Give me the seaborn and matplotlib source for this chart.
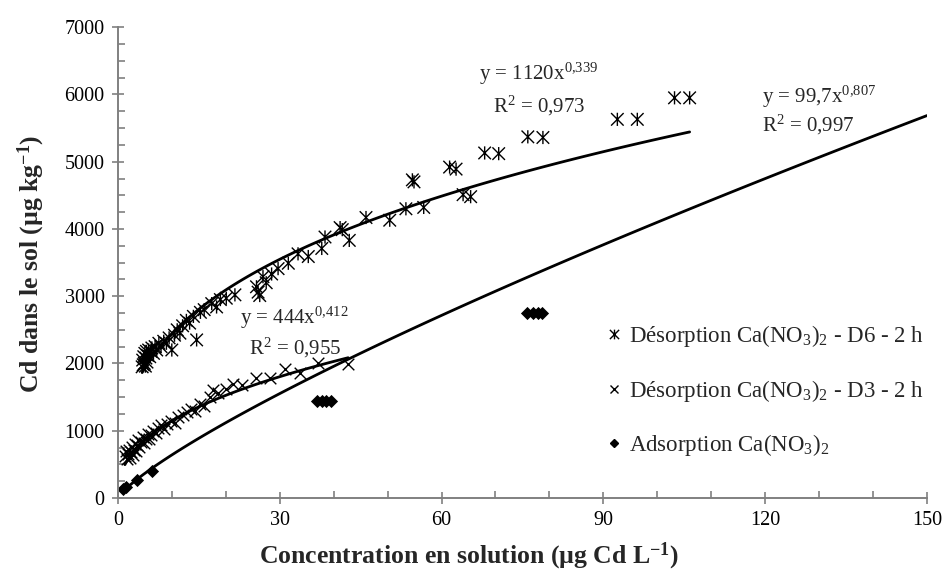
import numpy as np
import matplotlib
matplotlib.use("Agg")
import matplotlib.pyplot as plt
from matplotlib.lines import Line2D
from matplotlib.path import Path
from matplotlib.ticker import MultipleLocator
import seaborn as sns

# Désorption D6 - 2 h (asterisk markers)
d6_x = [4.5, 4.6, 4.7, 4.8, 4.9, 5.0, 5.1, 5.2, 5.3, 5.4, 5.5, 5.7, 5.9, 6.1, 6.3,
        6.6, 6.9, 7.2, 7.6, 8.0, 8.5, 9.0, 9.5, 10.0, 10.5, 11.0, 11.5, 12.0, 12.7,
        13.3, 14.0, 14.6, 15.3, 16.0, 17.4, 18.3, 19.0, 20.1, 21.7, 25.7, 26.0, 26.3,
        26.9, 27.5, 28.5, 29.7, 31.6, 33.4, 35.3, 37.8, 38.4, 41.2, 41.6, 42.9, 46.0,
        50.4, 53.4, 54.6, 54.9, 56.7, 61.5, 62.7, 64.0, 65.4, 68.0, 70.6, 76.0, 78.8,
        92.6, 96.3, 103.2, 106.0]
d6_y = [1950, 2050, 1980, 2100, 2000, 2150, 1960, 2080, 2180, 2020, 2120, 2200, 2100,
        2180, 2230, 2150, 2250, 2200, 2300, 2250, 2330, 2300, 2380, 2200, 2420, 2500,
        2450, 2560, 2640, 2600, 2700, 2350, 2760, 2800, 2890, 2840, 2950, 2970, 3020,
        3140, 3060, 3010, 3290, 3200, 3330, 3410, 3490, 3630, 3590, 3710, 3880, 4020,
        3990, 3830, 4170, 4130, 4300, 4730, 4700, 4320, 4920, 4890, 4510, 4480, 5130,
        5120, 5370, 5360, 5630, 5630, 5950, 5950]

# Désorption D3 - 2 h (x markers)
d3_x = [1.3, 1.5, 1.7, 1.9, 2.0, 2.2, 2.4, 2.6, 2.8, 3.0, 3.2, 3.4, 3.6, 3.8, 4.0,
        4.3, 4.6, 4.9, 5.2, 5.5, 5.8, 6.1, 6.5, 7.0, 7.5, 8.0, 8.6, 9.2, 9.8, 10.5,
        11.2, 12.0, 12.8, 13.5, 14.3, 15.2, 16.0, 17.1, 17.6, 18.5, 20.0, 21.4, 23.0,
        25.7, 28.2, 31.0, 33.7, 37.1, 42.7]
d3_y = [620, 700, 580, 650, 720, 600, 680, 760, 640, 720, 800, 700, 780, 860, 760,
        830, 900, 820, 880, 950, 870, 940, 1000, 960, 1040, 1080, 1020, 1100, 1150,
        1120, 1200, 1230, 1280, 1330, 1290, 1400, 1370, 1500, 1600, 1560, 1620, 1700,
        1680, 1780, 1780, 1910, 1860, 2010, 1990]

# Adsorption (diamonds)
ads_x = [0.9, 1.5, 3.5, 6.3, 37.0, 37.8, 38.6, 39.5, 75.9, 76.9, 77.8, 78.7]
ads_y = [130, 160, 260, 400, 1440, 1445, 1440, 1445, 2750, 2755, 2750, 2755]

# power trendlines y = a * x^b
fit_a = [1120, 444, 99.7]
fit_b = [0.339, 0.412, 0.807]
fit_xmin = [4.5, 1.3, 0.9]
fit_xmax = [106.0, 42.7, 150.0]
fit_eq = [r"y = 1120x$^{0{,}339}$", r"y = 444x$^{0{,}412}$", r"y = 99,7x$^{0{,}807}$"]
fit_r2 = [r"R$^2$ = 0,973", r"R$^2$ = 0,955", r"R$^2$ = 0,997"]

legend_labels = [r"Désorption Ca(NO$_3$)$_2$ - D6 - 2 h",
                 r"Désorption Ca(NO$_3$)$_2$ - D3 - 2 h",
                 r"Adsorption Ca(NO$_3$)$_2$"]

sns.set_theme(style="white")
plt.rcParams['font.family'] = ['Liberation Serif', 'DejaVu Serif']
plt.rcParams['mathtext.fontset'] = 'custom'
plt.rcParams['mathtext.rm'] = 'Liberation Serif'
plt.rcParams['mathtext.it'] = 'Liberation Serif:italic'
plt.rcParams['mathtext.bf'] = 'Liberation Serif:bold'

fig, ax = plt.subplots(figsize=(9.43, 5.79), dpi=100)
fig.subplots_adjust(left=0.125, right=0.983, bottom=0.140, top=0.953)

# asterisk marker like Excel's star: an x with a vertical bar
star = Path([(-1, -1), (1, 1), (-1, 1), (1, -1), (0, -1.05), (0, 1.05)],
            [Path.MOVETO, Path.LINETO, Path.MOVETO, Path.LINETO, Path.MOVETO, Path.LINETO])

sns.scatterplot(x=d6_x, y=d6_y, marker=star, s=90, facecolor='none',
                edgecolor='black', linewidth=1.0, ax=ax)
sns.scatterplot(x=d3_x, y=d3_y, marker='x', s=70, color='black', linewidth=1.0, ax=ax)
sns.scatterplot(x=ads_x, y=ads_y, marker='D', s=45, color='black', linewidth=0, ax=ax)

for a, b, x0, x1 in zip(fit_a, fit_b, fit_xmin, fit_xmax):
    xs = np.linspace(x0, x1, 120)
    sns.lineplot(x=xs, y=a * xs ** b, color='black', lw=2.0, ax=ax)

# equation labels
eq_pos = [(67.0, 6310, 69.5, 5830), (22.6, 2680, 24.3, 2230), (119.5, 5960, 119.5, 5540)]
for (ex, ey, rx, ry), eq, r2 in zip(eq_pos, fit_eq, fit_r2):
    ax.text(ex, ey, eq, fontsize=15, ha='left', va='center')
    ax.text(rx, ry, r2, fontsize=15, ha='left', va='center')

ax.set_xlim(0, 150)
ax.set_ylim(0, 7000)
ax.xaxis.set_major_locator(MultipleLocator(30))
ax.xaxis.set_minor_locator(MultipleLocator(10))
ax.yaxis.set_major_locator(MultipleLocator(1000))
ax.yaxis.set_minor_locator(MultipleLocator(250))

sns.despine(ax=ax)
for side in ['left', 'bottom']:
    ax.spines[side].set_color('#808080')
    ax.spines[side].set_linewidth(1.4)
ax.tick_params(which='major', direction='inout', length=9, width=1.2, color='#808080',
               labelsize=14.5, labelcolor='black', pad=5, left=True, bottom=True)
ax.tick_params(which='minor', direction='in', length=5, width=1.2, color='#808080',
               left=True, bottom=True)

ax.set_xlabel("")
ax.set_ylabel("")
fig.text(0.497, 0.040, r"Concentration en solution (µg Cd L$^{\mathbf{-1}}$)",
         fontsize=18.5, fontweight='bold', ha='center', va='center')
fig.text(0.033, 0.545, r"Cd dans le sol (µg kg$^{\mathbf{-1}}$)",
         fontsize=18.5, fontweight='bold', ha='center', va='center', rotation=90)

handles = [
    Line2D([], [], ls='', marker=star, markersize=7, markerfacecolor='none',
           markeredgecolor='black', markeredgewidth=1.0),
    Line2D([], [], ls='', marker='x', markersize=6, color='black', markeredgewidth=1.0),
    Line2D([], [], ls='', marker='D', markersize=4.5, color='black'),
]
ax.legend(handles, legend_labels, loc='center left', bbox_to_anchor=(0.605, 0.228),
          frameon=False, fontsize=16.5, handlelength=0.6, handletextpad=0.35,
          labelspacing=1.25, borderpad=0, borderaxespad=0)

fig.savefig('out.png', dpi=100)
